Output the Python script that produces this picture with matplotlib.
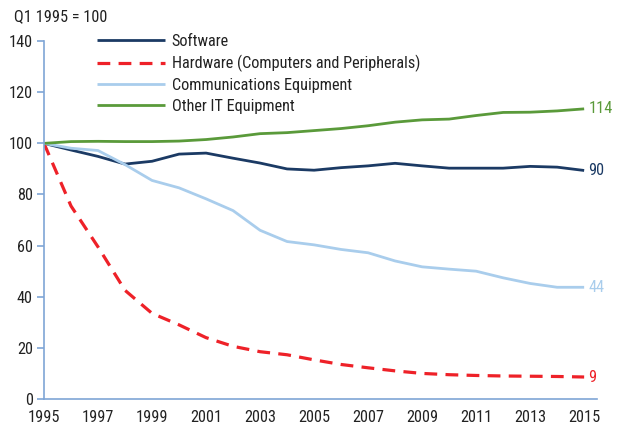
import matplotlib
matplotlib.use("Agg")
import matplotlib.pyplot as plt
from matplotlib import font_manager

# pick a narrow face if one is installed
available = set((f.name, f.stretch) for f in font_manager.fontManager.ttflist)
names = set(n for n, s in available)
stretch = 'normal'
if 'Liberation Sans Narrow' in names:
    family = 'Liberation Sans Narrow'
elif 'Roboto Condensed' in names:
    family = 'Roboto Condensed'
elif ('DejaVu Sans', 'condensed') in available or ('DejaVu Sans', 'semi-condensed') in available:
    family = 'DejaVu Sans'
    stretch = 'condensed'
else:
    family = 'Roboto'
plt.rcParams['font.family'] = [family, 'DejaVu Sans']
plt.rcParams['font.stretch'] = stretch

years = list(range(1995, 2016))
software = [100, 97.4, 94.9, 91.9, 93.0, 95.8, 96.2, 94.2, 92.3, 90.0, 89.5,
            90.5, 91.2, 92.2, 91.2, 90.3, 90.3, 90.3, 91.0, 90.7, 89.4]
hardware = [100, 75.5, 59.5, 42.5, 33.5, 29.0, 24.0, 20.6, 18.5, 17.3, 15.3,
            13.5, 12.2, 11.0, 10.0, 9.5, 9.2, 9.0, 8.9, 8.8, 8.6]
comms = [100, 98.1, 97.2, 91.7, 85.5, 82.6, 78.3, 73.7, 66.0, 61.6, 60.3,
         58.5, 57.2, 54.0, 51.7, 50.8, 50.0, 47.4, 45.2, 43.7, 43.7]
other_it = [100, 100.7, 100.8, 100.7, 100.7, 100.9, 101.5, 102.5, 103.8, 104.2, 105.0,
            105.8, 106.9, 108.3, 109.2, 109.5, 110.9, 112.1, 112.2, 112.7, 113.5]

labels = ['Software', 'Hardware (Computers and Peripherals)',
          'Communications Equipment', 'Other IT Equipment']
end_labels = ['90', '9', '44', '114']
colors = ['#1b3a64', '#ee2128', '#a9cdec', '#5a9a3a']
fs = 11.7

fig = plt.figure(figsize=(6.18, 4.24), dpi=100)
ax = fig.add_axes([0.0712, 0.059, 0.895, 0.844])

series = [software, hardware, comms, other_it]
for vals, lab, c in zip(series, labels, colors):
    if lab.startswith('Hardware'):
        ax.plot(years, vals, color=c, lw=2.3, ls=(0, (4, 2.6)), label=lab)
    else:
        ax.plot(years, vals, color=c, lw=2.0, label=lab, solid_capstyle='butt')

for vals, txt, c in zip(series, end_labels, colors):
    ax.text(years[-1] + 0.15, vals[-1], txt, color=c, fontsize=fs,
            ha='left', va='center')

ax.set_xlim(1995, 2015.48)
ax.set_ylim(0, 140)
ax.set_xticks(range(1995, 2016, 2))
ax.set_yticks(range(0, 141, 20))

spine_c = '#7fa5d6'
for s in ['top', 'right']:
    ax.spines[s].set_visible(False)
for s in ['left', 'bottom']:
    ax.spines[s].set_color(spine_c)
    ax.spines[s].set_linewidth(1.2)
ax.tick_params(axis='y', colors=spine_c, length=5, width=1.2, labelcolor='#222222',
               labelsize=fs, pad=3)
ax.tick_params(axis='x', length=0, labelcolor='#222222', labelsize=fs, pad=8)

fig.text(14 / 618, 1 - 17 / 424, 'Q1 1995 = 100', fontsize=fs, color='#222222',
         ha='left', va='center')

leg = ax.legend(loc='upper left', bbox_to_anchor=(0.096, 1.02), frameon=False,
                fontsize=fs, handlelength=4.2, handletextpad=0.4,
                labelspacing=0.36, borderpad=0, borderaxespad=0)
for t in leg.get_texts():
    t.set_color('#222222')

fig.savefig('out.png', dpi=100)
